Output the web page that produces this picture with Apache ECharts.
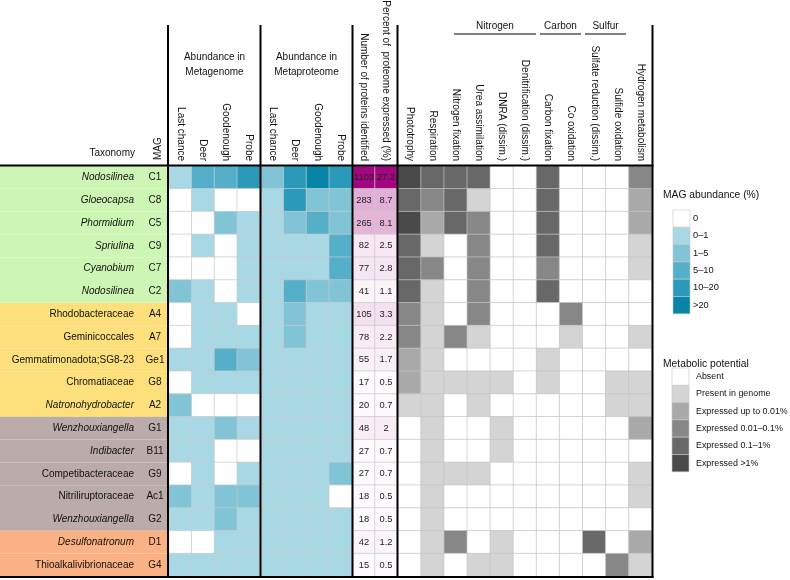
<!DOCTYPE html>
<html><head><meta charset="utf-8">
<script src="https://cdn.jsdelivr.net/npm/echarts@6/dist/echarts.min.js"></script>
<style>html,body{margin:0;padding:0;background:#fff}#c{width:790px;height:580px}</style>
</head><body><div id="c"></div>
<script>
// ---------------- DATA ----------------
const taxa = ['Nodosilinea','Gloeocapsa','Phormidium','Spriulina','Cyanobium','Nodosilinea',
  'Rhodobacteraceae','Geminicoccales','Gemmatimonadota;SG8-23','Chromatiaceae','Natronohydrobacter',
  'Wenzhouxiangella','Indibacter','Competibacteraceae','Nitriliruptoraceae','Wenzhouxiangella',
  'Desulfonatronum','Thioalkalivibrionaceae'];
const italicName = [true,true,true,true,true,true,false,false,false,false,true,true,true,false,false,true,true,false];
const mags = ['C1','C8','C5','C9','C7','C2','A4','A7','Ge1','G8','A2','G1','B11','G9','Ac1','G2','D1','G4'];
const taxonGroup = [0,0,0,0,0,0,1,1,1,1,1,2,2,2,2,2,3,3];
const sites = ['Last chance','Deer','Goodenough','Probe'];
// abundance class index: 0 = 0, 1 = 0–1, 2 = 1–5, 3 = 5–10, 4 = 10–20, 5 = >20
const metagenome = [
  [1,3,3,4],[0,1,0,0],[0,0,2,1],[0,1,0,1],[0,0,0,1],[2,1,0,1],
  [0,1,1,0],[0,1,1,1],[1,1,3,2],[0,1,1,1],[2,0,0,0],
  [1,1,2,1],[1,1,0,0],[0,1,0,1],[2,1,2,2],[1,1,2,1],
  [0,0,1,1],[1,1,1,1]];
const metaproteome = [
  [2,4,5,4],[1,4,2,2],[1,2,3,2],[1,1,1,3],[1,1,1,3],[1,3,2,2],
  [1,2,1,1],[1,2,1,1],[1,1,1,1],[1,1,1,1],[1,1,1,1],
  [1,1,1,1],[1,1,1,1],[1,1,1,2],[1,1,1,0],[1,1,1,1],
  [1,1,1,1],[1,1,1,1]];
const proteinColumns = ['Number of proteins identified','Percent of  proteome expressed (%)'];
const proteinCount = [1103,283,265,82,77,41,105,78,55,17,20,48,27,27,18,18,42,15];
const proteomePct = [27.2,8.7,8.1,2.5,2.8,1.1,3.3,2.2,1.7,0.5,0.7,2,0.7,0.7,0.5,0.5,1.2,0.5];
const pathways = ['Phototrophy','Respiration','Nitrogen fixation','Urea assimilation','DNRA (dissim.)',
  'Denitrification (dissim.)','Carbon fixation','Co oxidation','Sulfate reduction (dissim.)',
  'Sulfide oxidation','Hydrogen metabolism'];
// metabolic class index: 0 Absent, 1 Present, 2 up to 0.01%, 3 0.01–0.1%, 4 0.1–1%, 5 >1%
const metabolic = [
  [5,4,4,4,0,0,4,0,0,0,3],
  [4,3,4,1,0,0,4,0,0,0,2],
  [5,2,4,3,0,0,4,0,0,0,2],
  [4,1,0,3,0,0,4,0,0,0,1],
  [4,3,0,3,0,0,3,0,0,0,1],
  [4,1,0,3,0,0,4,0,0,0,0],
  [3,1,0,3,0,0,0,3,0,0,0],
  [3,1,3,1,0,0,0,1,0,0,1],
  [2,1,0,0,0,0,1,0,0,0,0],
  [2,1,1,1,1,0,1,0,0,1,1],
  [1,1,0,1,0,0,0,0,0,1,1],
  [0,1,0,0,1,0,0,0,0,0,2],
  [0,1,0,0,1,0,0,0,0,0,0],
  [0,1,1,1,0,0,0,0,0,0,1],
  [0,1,0,0,0,0,0,0,0,0,1],
  [0,1,0,0,0,0,0,0,0,0,0],
  [0,1,3,0,1,0,0,0,4,0,2],
  [0,1,0,1,1,0,0,0,0,3,1]];
const pathwayGroups = [
  {name:'Nitrogen', x0:454, x1:536},
  {name:'Carbon', x0:540, x1:581},
  {name:'Sulfur', x0:585, x1:626}];
const abundanceLevels = ['0','0–1','1–5','5–10','10–20','>20'];
const metabolicLevels = ['Absent','Present in genome','Expressed up to 0.01%','Expressed 0.01–0.1%','Expressed 0.1–1%','Expressed >1%'];

// ---------------- STYLE ----------------
const FONT = 'Liberation Sans, Arial, Helvetica, sans-serif';
const groupColors = ['#cdf6b4','#fde07c','#bcabab','#fab183'];
const abundColors = ['#ffffff','#a9d8e5','#80c4d6','#55afc8','#2b9aba','#0685a8'];
const metaColors = ['#ffffff','#d4d4d4','#a9a9a9','#878787','#686868','#4a4a4a'];
const TOP = 166, H = 410.4;

const rowIdx = mags.map((m,i)=>i);
function cells(mat){ const d=[]; mat.forEach((row,r)=>row.forEach((v,c)=>d.push([c,r,v]))); return d; }
const pctCells = [];
proteomePct.forEach((p,r)=>{ pctCells.push([0,r,p]); pctCells.push([1,r,p]); });

function catX(gi, names){
  return {type:'category', gridIndex:gi, position:'top', data:names,
    axisLine:{show:false}, axisTick:{show:false}, splitLine:{show:false},
    axisLabel:{rotate:90, margin:5, interval:0, fontSize:10, color:'#111', fontFamily:FONT}};
}
function catY(gi){
  return {type:'category', gridIndex:gi, data:rowIdx, inverse:true, show:false};
}

// ---------------- GRAPHIC (headers, separators, legends) ----------------
const g = [];
function txt(x,y,text,opt){ return {type:'text', x:x, y:y, z:100, silent:true,
  style:Object.assign({text:text, fill:'#111', fontSize:10, fontFamily:FONT, align:'left', verticalAlign:'middle',
    textAlign:'left', textVerticalAlign:'middle'}, opt||{})}; }
[168, 260.5, 352.5, 397.5, 652.5].forEach(x=>g.push({type:'line', z:100, silent:true,
  shape:{x1:x,y1:25,x2:x,y2:578}, style:{stroke:'#000', lineWidth:2}}));
[165.5, 577].forEach(y=>g.push({type:'line', z:100, silent:true,
  shape:{x1:0,y1:y,x2:653.5,y2:y}, style:{stroke:'#000', lineWidth:2}}));
g.push(txt(135,153,'Taxonomy',{align:'right',textAlign:'right'}));
g.push(Object.assign(txt(158,160,'MAG'),{rotation:Math.PI/2}));
g.push(txt(214.5,57,'Abundance in',{align:'center',textAlign:'center'}));
g.push(txt(214.5,72,'Metagenome',{align:'center',textAlign:'center'}));
g.push(txt(306.5,57,'Abundance in',{align:'center',textAlign:'center'}));
g.push(txt(306.5,72,'Metaproteome',{align:'center',textAlign:'center'}));
pathwayGroups.forEach(pg=>{
  g.push(txt((pg.x0+pg.x1)/2,26,pg.name,{align:'center',textAlign:'center'}));
  g.push({type:'line', z:100, silent:true, shape:{x1:pg.x0,y1:34,x2:pg.x1,y2:34}, style:{stroke:'#000', lineWidth:1}});
});
g.push(txt(663,195,'MAG abundance (%)',{fontSize:10.3}));
abundanceLevels.forEach((lab,i)=>{
  g.push({type:'rect', z:100, silent:true, shape:{x:673,y:210+i*17.3,width:17,height:17.3},
    style:{fill:abundColors[i], stroke:'#c8c8c8', lineWidth:0.6}});
  g.push(txt(693,210+i*17.3+8.6,lab,{fontSize:9.3}));
});
g.push(txt(663,364,'Metabolic potential',{fontSize:10.3}));
metabolicLevels.forEach((lab,i)=>{
  g.push({type:'rect', z:100, silent:true, shape:{x:672,y:368+i*17.3,width:17,height:17.3},
    style:{fill:metaColors[i], stroke:'#c8c8c8', lineWidth:0.6}});
  g.push(txt(696,368+i*17.3+8.6,lab,{fontSize:8.9}));
});

// ---------------- CHART ----------------
const chart = echarts.init(document.getElementById('c'), null, {renderer:'canvas'});
const heatBase = {type:'heatmap', silent:true, emphasis:{disabled:true}, progressive:0};
chart.setOption({
  animation:false,
  backgroundColor:'#ffffff',
  textStyle:{fontFamily:FONT},
  grid:[
    {left:0, top:TOP, width:168, height:H, outerBoundsMode:'none'},
    {left:169, top:TOP, width:91, height:H, outerBoundsMode:'none'},
    {left:261, top:TOP, width:91, height:H, outerBoundsMode:'none'},
    {left:353, top:TOP, width:44, height:H, outerBoundsMode:'none'},
    {left:398, top:TOP, width:254, height:H, outerBoundsMode:'none'}
  ],
  xAxis:[
    {type:'value', gridIndex:0, min:0, max:1, show:false},
    catX(1, sites), catX(2, sites), catX(3, proteinColumns), catX(4, pathways)
  ],
  yAxis:[catY(0), catY(1), catY(2), catY(3), catY(4)],
  visualMap:[
    {type:'piecewise', show:false, seriesIndex:[1,2], dimension:2,
      pieces:abundanceLevels.map((l,i)=>({value:i, color:abundColors[i]}))},
    {type:'continuous', show:false, seriesIndex:3, dimension:2, min:0, max:27.2,
      inRange:{color:['#ffffff','#a3077f']}},
    {type:'piecewise', show:false, seriesIndex:4, dimension:2,
      pieces:metabolicLevels.map((l,i)=>({value:i, color:metaColors[i]}))}
  ],
  series:[
    {type:'bar', xAxisIndex:0, yAxisIndex:0, silent:true, barWidth:'100%', barCategoryGap:0,
      data:taxonGroup.map(gr=>({value:1, itemStyle:{color:groupColors[gr]}})),
      label:{show:true, position:'insideRight', distance:0,
        formatter:p=>'{'+(italicName[p.dataIndex]?'ti':'t')+'|'+taxa[p.dataIndex]+'}{m|'+mags[p.dataIndex]+'}',
        rich:{
          t:{fontSize:10, color:'#111', fontFamily:FONT, padding:[0,8,0,0]},
          ti:{fontSize:10, color:'#111', fontFamily:FONT, fontStyle:'italic', padding:[0,8,0,0]},
          m:{fontSize:10, color:'#111', fontFamily:FONT, width:26, align:'center'}
        }}},
    Object.assign({}, heatBase, {xAxisIndex:1, yAxisIndex:1, data:cells(metagenome),
      itemStyle:{borderColor:'#c3ccd0', borderWidth:0.7}}),
    Object.assign({}, heatBase, {xAxisIndex:2, yAxisIndex:2, data:cells(metaproteome),
      itemStyle:{borderColor:'#c3ccd0', borderWidth:0.7}}),
    Object.assign({}, heatBase, {xAxisIndex:3, yAxisIndex:3, data:pctCells,
      itemStyle:{borderColor:'#c8c8c8', borderWidth:0.7},
      label:{show:true, fontSize:9.3, color:'#222', fontFamily:FONT,
        formatter:p=>p.value[0]===0 ? String(proteinCount[p.value[1]]) : String(proteomePct[p.value[1]])}}),
    Object.assign({}, heatBase, {xAxisIndex:4, yAxisIndex:4, data:cells(metabolic),
      itemStyle:{borderColor:'#c4c4c4', borderWidth:0.7}})
  ],
  graphic:{elements:g}
});
</script>
</body></html>
